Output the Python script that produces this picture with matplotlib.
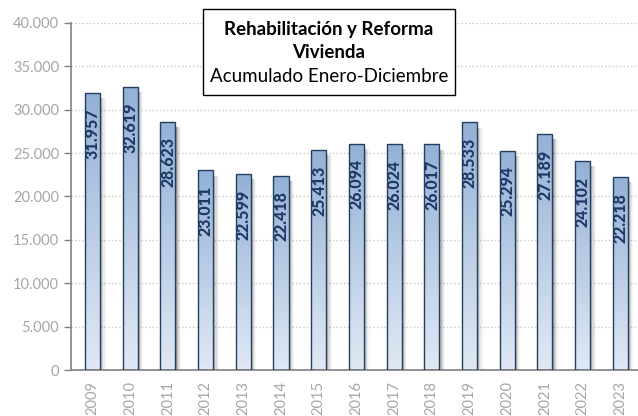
import numpy as np
import matplotlib
matplotlib.use("Agg")
import matplotlib.pyplot as plt
from matplotlib.colors import LinearSegmentedColormap
from matplotlib.ticker import FuncFormatter

years = ["2009", "2010", "2011", "2012", "2013", "2014", "2015", "2016",
         "2017", "2018", "2019", "2020", "2021", "2022", "2023"]
values = [31957, 32619, 28623, 23011, 22599, 22418, 25413, 26094,
          26024, 26017, 28533, 25294, 27189, 24102, 22218]

plt.rcParams["font.family"] = ["Lato", "DejaVu Sans"]

fig = plt.figure(figsize=(6.38, 4.16), dpi=100)
ax = fig.add_axes([71 / 638, 46 / 416, 570 / 638, 347 / 416])

x = np.arange(len(years))
width = 0.4
cmap = LinearSegmentedColormap.from_list("bar", ["#e0e9f4", "#93b1d6"])
grad = np.linspace(0, 1, 256).reshape(-1, 1)

for xi, v in zip(x, values):
    # soft shadow to the right
    for k, a in enumerate([0.16, 0.12, 0.08, 0.05, 0.03]):
        off = 0.03 + 0.03 * k
        ax.bar(xi + off, v - 300, width, bottom=-300, color="black",
               alpha=a, linewidth=0, zorder=1)
    bar = ax.bar(xi, v, width, color="none", edgecolor="#243f60",
                 linewidth=1.0, zorder=3)[0]
    im = ax.imshow(grad, cmap=cmap, aspect="auto", origin="lower",
                   extent=(xi - width / 2, xi + width / 2, 0, v), zorder=2)
    im.set_clip_path(bar)
    label = f"{v:,}".replace(",", ".")
    ax.text(xi + 0.01, v - 1800, label, rotation=90, ha="center", va="top",
            fontsize=11.5, fontweight="black", color="#1f3864", zorder=4)

ax.set_xlim(-0.57, 14.55)
ax.set_ylim(0, 40000)
ax.set_yticks(range(0, 40001, 5000))
ax.yaxis.set_major_formatter(FuncFormatter(lambda v, p: f"{int(v):,}".replace(",", ".")))
ax.set_xticks(x)
ax.set_xticklabels(years, rotation=90)
ax.tick_params(axis="y", colors="#808080", labelcolor="#a6a6a6", labelsize=10.5,
               length=5, width=1)
ax.tick_params(axis="x", length=0, labelcolor="#a6a6a6", labelsize=10.5, pad=8)
ax.grid(axis="y", linestyle=":", color="#c8c8c8", linewidth=1, zorder=0)
ax.set_axisbelow(True)
for s in ["top", "right"]:
    ax.spines[s].set_visible(False)
for s in ["left", "bottom"]:
    ax.spines[s].set_color("#808080")
    ax.spines[s].set_linewidth(1.2)

# title box
fig.patches.append(plt.Rectangle((203 / 638, 1 - 95 / 416), 252 / 638, 86 / 416,
                                 transform=fig.transFigure, facecolor="white",
                                 edgecolor="black", linewidth=1, zorder=5))
cx = 329 / 638
fig.text(cx, 1 - 29 / 416, "Rehabilitación y Reforma", ha="center", va="center",
         fontsize=13.5, fontweight="bold", zorder=6)
fig.text(cx, 1 - 53 / 416, "Vivienda", ha="center", va="center",
         fontsize=13.5, fontweight="bold", zorder=6)
fig.text(cx, 1 - 77 / 416, "Acumulado Enero-Diciembre", ha="center", va="center",
         fontsize=13.5, zorder=6)

fig.savefig("out.png", dpi=100)
